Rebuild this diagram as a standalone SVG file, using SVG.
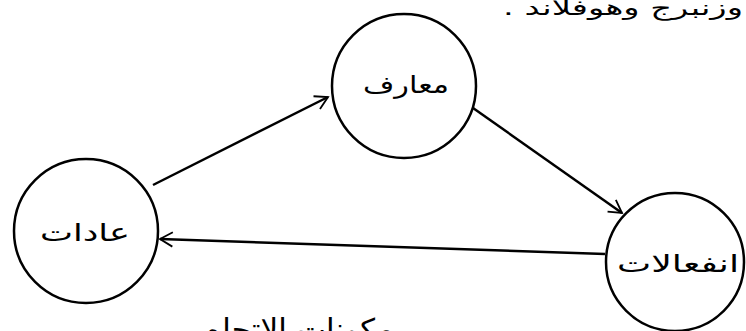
<svg xmlns="http://www.w3.org/2000/svg" width="746" height="331" viewBox="0 0 746 331">
<style>
.node{fill:none;stroke:#000;stroke-width:2.5}
.lbl{font-family:"DejaVu Sans",sans-serif;font-size:24px;fill:#000;text-anchor:middle}
.edge{fill:none;stroke:#000;stroke-width:2.5}
.cap{font-family:"DejaVu Sans",sans-serif;font-size:21px;fill:#000}
</style>
<defs>
<marker id="arr" viewBox="0 0 20 20" refX="18" refY="10" markerWidth="18" markerHeight="18" markerUnits="userSpaceOnUse" orient="auto">
<polyline points="4,2 18,10 4,18" fill="none" stroke="#000" stroke-width="2"/>
</marker>
</defs>
<rect width="746" height="331" fill="#fff"/>
<text class="cap" x="503" y="15" direction="rtl" text-anchor="end" textLength="240" lengthAdjust="spacingAndGlyphs">وزنبرج وهوفلاند .</text>
<g id="node-maaref">
<circle class="node" cx="404" cy="86" r="72"/>
<text class="lbl" x="406" y="93" textLength="86" lengthAdjust="spacingAndGlyphs">معارف</text>
</g>
<g id="node-adat">
<circle class="node" cx="86" cy="231" r="72"/>
<text class="lbl" x="85" y="241" textLength="90" lengthAdjust="spacingAndGlyphs">عادات</text>
</g>
<g id="node-infialat">
<circle class="node" cx="675" cy="262" r="69"/>
<text class="lbl" x="678" y="272" textLength="122" lengthAdjust="spacingAndGlyphs">انفعالات</text>
</g>
<g id="connectors">
<line class="edge" x1="153" y1="185" x2="328" y2="97" marker-end="url(#arr)"/>
<line class="edge" x1="473" y1="108" x2="622" y2="213" marker-end="url(#arr)"/>
<line class="edge" x1="605" y1="254" x2="160" y2="239" marker-end="url(#arr)"/>
</g>
<text class="lbl" x="300" y="340" style="font-size:30px" textLength="188" lengthAdjust="spacingAndGlyphs">مكونات الاتجاه</text>
</svg>
